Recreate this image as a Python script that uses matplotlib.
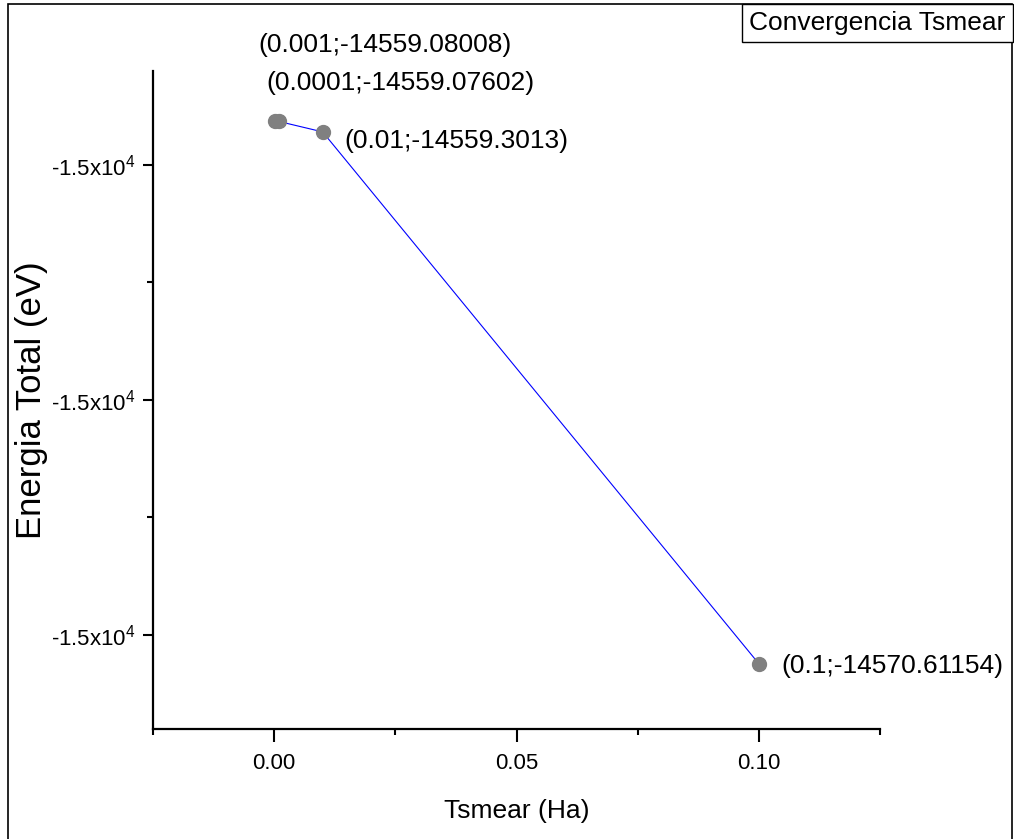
import matplotlib
matplotlib.use("Agg")
import matplotlib.pyplot as plt
from matplotlib.patches import Rectangle

plt.rcParams["font.family"] = ["Liberation Sans", "DejaVu Sans"]
plt.rcParams["mathtext.fontset"] = "custom"
plt.rcParams["mathtext.rm"] = "Liberation Sans"

# data: smearing temperature (Ha) vs total energy (eV)
tsmear = [0.0001, 0.001, 0.01, 0.1]
energia = [-14559.07602, -14559.08008, -14559.3013, -14570.61154]
point_labels = ["(0.0001;-14559.07602)", "(0.001;-14559.08008)",
                "(0.01;-14559.3013)", "(0.1;-14570.61154)"]
# label offsets in pixels (dx, dy) and horizontal alignment
label_offsets = [(126, 38), (106, 76), (22, -9), (23, -2)]
label_ha = ["center", "center", "left", "left"]

xticks = [0.00, 0.05, 0.10]
xtick_labels = ["0.00", "0.05", "0.10"]
yticks = [-14570, -14565, -14560]
ytick_labels = ["-1.5x10$^{4}$"] * 3

fig = plt.figure(figsize=(10.14, 8.39), dpi=100)
ax = fig.add_axes([153 / 1014, 1 - 729 / 839, 727 / 1014, (729 - 70.7) / 839])

ax.plot(tsmear, energia, color="#0000ff", lw=0.8, zorder=2)
ax.plot(tsmear, energia, ls="none", marker="o", ms=10, color="#808080",
        mec="#808080", zorder=3)

for x, y, txt, off, ha in zip(tsmear, energia, point_labels, label_offsets, label_ha):
    ax.annotate(txt, (x, y), xytext=off, textcoords="offset pixels",
                ha=ha, va="center", fontsize=19, annotation_clip=False)

ax.set_xlim(-0.025, 0.125)
ax.set_ylim(-14572, -14558)
ax.set_xticks(xticks, labels=xtick_labels)
ax.set_xticks([-0.025, 0.025, 0.075, 0.125], minor=True)
ax.set_yticks(yticks, labels=ytick_labels)
ax.set_yticks([-14567.5, -14562.5], minor=True)

for side in ("top", "right"):
    ax.spines[side].set_visible(False)
for side in ("left", "bottom"):
    ax.spines[side].set_linewidth(1.6)

ax.tick_params(axis="x", which="major", direction="out", length=9, width=1.5,
               labelsize=16, pad=8)
ax.tick_params(axis="x", which="minor", direction="out", length=4.5, width=1.5)
ax.tick_params(axis="y", which="major", direction="out", length=7.5, width=1.5,
               labelsize=16, pad=5)
ax.tick_params(axis="y", which="minor", direction="out", length=4.5, width=1.5)

ax.set_xlabel("Tsmear (Ha)", fontsize=19, va="center")
ax.xaxis.set_label_coords(0.5, -(811 - 729) / 658.3)
ax.set_ylabel("Energia Total (eV)", fontsize=25, va="center")
ax.yaxis.set_label_coords((32 - 153) / 727, 0.5)

# legend box
fig.text(877.5 / 1014, 1 - 23 / 839, "Convergencia Tsmear", fontsize=19,
         ha="center", va="center",
         bbox=dict(boxstyle="square,pad=0.26", fc="white", ec="black", lw=1))

# figure frame
fig.patches.append(Rectangle((8 / 1014, -0.02), 1004 / 1014, 1.02 - 4 / 839,
                             transform=fig.transFigure, fill=False,
                             ec="black", lw=1.2))

fig.savefig("out.png", dpi=100)
